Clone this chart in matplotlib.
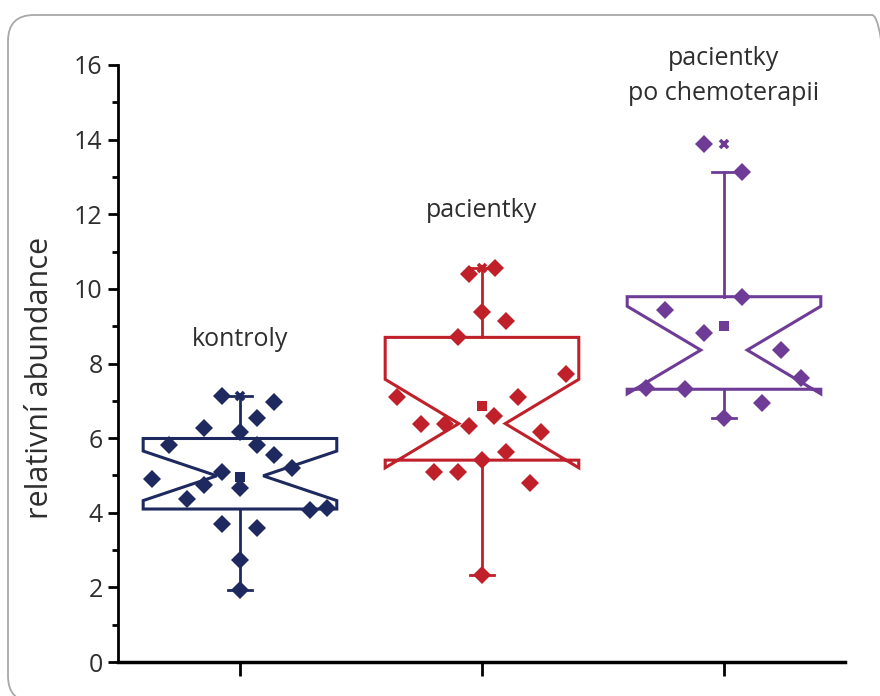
import matplotlib
matplotlib.use('Agg')
import matplotlib.pyplot as plt
from matplotlib.patches import Polygon, FancyBboxPatch
from matplotlib.transforms import IdentityTransform
from matplotlib.ticker import MultipleLocator
import numpy as np

# ---------------- data ----------------
categories = ['kontroly', 'pacientky', 'pacientky\npo chemoterapii']
colors = ['#1e2a5f', '#c0202a', '#6e3c96']

kontroly = [7.13, 6.97, 6.55, 6.28, 6.17, 5.81, 5.81, 5.55, 5.19, 5.08,
            4.90, 4.74, 4.65, 4.38, 4.07, 4.13, 3.70, 3.58, 2.73, 1.93]
kontroly_dx = [-0.073, 0.142, 0.069, -0.148, 0.0, -0.293, 0.069, 0.142, 0.214, -0.073,
               -0.362, -0.148, 0.0, -0.220, 0.289, 0.358, -0.073, 0.069, 0.0, 0.0]

pacientky = [10.41, 10.57, 9.38, 9.14, 8.70, 7.71, 7.09, 7.09, 6.60, 6.38,
             6.39, 6.33, 6.17, 5.62, 5.41, 5.10, 5.10, 4.79, 2.33]
pacientky_dx = [-0.052, 0.052, 0.0, 0.099, -0.100, 0.348, -0.351, 0.147, 0.048, -0.251,
                -0.152, -0.052, 0.245, 0.099, 0.0, -0.200, -0.100, 0.197, 0.0]

chemo = [13.89, 13.12, 9.79, 9.43, 8.83, 8.36, 7.60, 7.35, 7.31, 6.93, 6.53]
chemo_dx = [-0.083, 0.076, 0.076, -0.244, -0.083, 0.234, 0.317, -0.324, -0.161, 0.156, 0.0]

groups = [kontroly, pacientky, chemo]
offsets = [kontroly_dx, pacientky_dx, chemo_dx]
label_y = [8.63, 12.1, 15.71]

yticks = [0, 2, 4, 6, 8, 10, 12, 14, 16]

FONT = ['Open Sans', 'DejaVu Sans']
TXT = '#2e2e2e'


def hinges(v):
    """Quartiles as medians of the lower/upper halves (median excluded)."""
    s = np.sort(v)
    n = len(s)
    h = n // 2
    lower = s[:h]
    upper = s[n - h:]
    return np.median(lower), np.median(s), np.median(upper)


fig = plt.figure(figsize=(8.8, 6.96), dpi=100)
ax = fig.add_axes([118/880, 34/696, (845-118)/880, (662-65)/696])

# rounded frame around the whole figure
frame = FancyBboxPatch((8, -6), 890, 696 - 15 + 6, boxstyle='round,pad=0,rounding_size=26',
                       transform=IdentityTransform(), facecolor='none',
                       edgecolor='#a8a8a8', linewidth=1.3, clip_on=False)
fig.add_artist(frame)

half = 0.40
tip = 0.096
cap = 0.05
for i, (vals, dx, col) in enumerate(zip(groups, offsets, colors)):
    pos = i + 1
    v = np.asarray(vals)
    n = len(v)
    q1, med, q3 = hinges(v)
    iqr = q3 - q1
    nlo = med - 1.57 * iqr / np.sqrt(n)
    nhi = med + 1.57 * iqr / np.sqrt(n)
    whi = v[v <= q3 + 1.5 * iqr].max()
    wlo = v[v >= q1 - 1.5 * iqr].min()
    L, R = pos - half, pos + half
    poly = [(L, q3), (R, q3), (R, nhi), (pos + tip, med), (R, nlo), (R, q1),
            (L, q1), (L, nlo), (pos - tip, med), (L, nhi)]
    ax.add_patch(Polygon(poly, closed=True, fill=False, edgecolor=col,
                         linewidth=2.2, joinstyle='miter', zorder=2))
    ax.plot([pos, pos], [q3, whi], color=col, lw=2.0, zorder=2)
    ax.plot([pos, pos], [q1, wlo], color=col, lw=2.0, zorder=2)
    ax.plot([pos - cap, pos + cap], [whi, whi], color=col, lw=2.0, zorder=2)
    ax.plot([pos - cap, pos + cap], [wlo, wlo], color=col, lw=2.0, zorder=2)
    ax.plot(pos + np.asarray(dx), v, linestyle='none', marker='D', ms=8.8,
            color=col, markeredgewidth=0, zorder=3)
    ax.plot([pos], [v.mean()], linestyle='none', marker='s', ms=6.5,
            color=col, markeredgewidth=0, zorder=4)
    ax.plot([pos], [v.max()], linestyle='none', marker='x', ms=6.2,
            color=col, markeredgewidth=2.6, zorder=4)
    ax.text(pos, label_y[i], categories[i], ha='center', va='center',
            fontsize=18, family=FONT, color=TXT, linespacing=1.55, clip_on=False)

ax.set_xlim(0.496, 3.5)
ax.set_ylim(0, 16)
ax.set_xticks([1, 2, 3])
ax.set_xticklabels([])
ax.set_yticks(yticks)
ax.set_yticklabels([str(t) for t in yticks], family=FONT, fontsize=18, color=TXT)
ax.yaxis.set_minor_locator(MultipleLocator(1))
ax.tick_params(axis='y', which='major', length=7, width=2, direction='out', pad=4)
ax.tick_params(axis='y', which='minor', length=4, width=2, direction='out')
ax.tick_params(axis='x', which='major', length=10, width=2, direction='out')
for s in ['top', 'right']:
    ax.spines[s].set_visible(False)
ax.spines['left'].set_linewidth(2)
ax.spines['bottom'].set_linewidth(2.5)
ax.patch.set_alpha(0)
ax.set_ylabel('relativní abundance', family=FONT, fontsize=22, color=TXT)
ax.yaxis.set_label_coords(-0.086, 0.475)

fig.savefig('out.png', dpi=100)
